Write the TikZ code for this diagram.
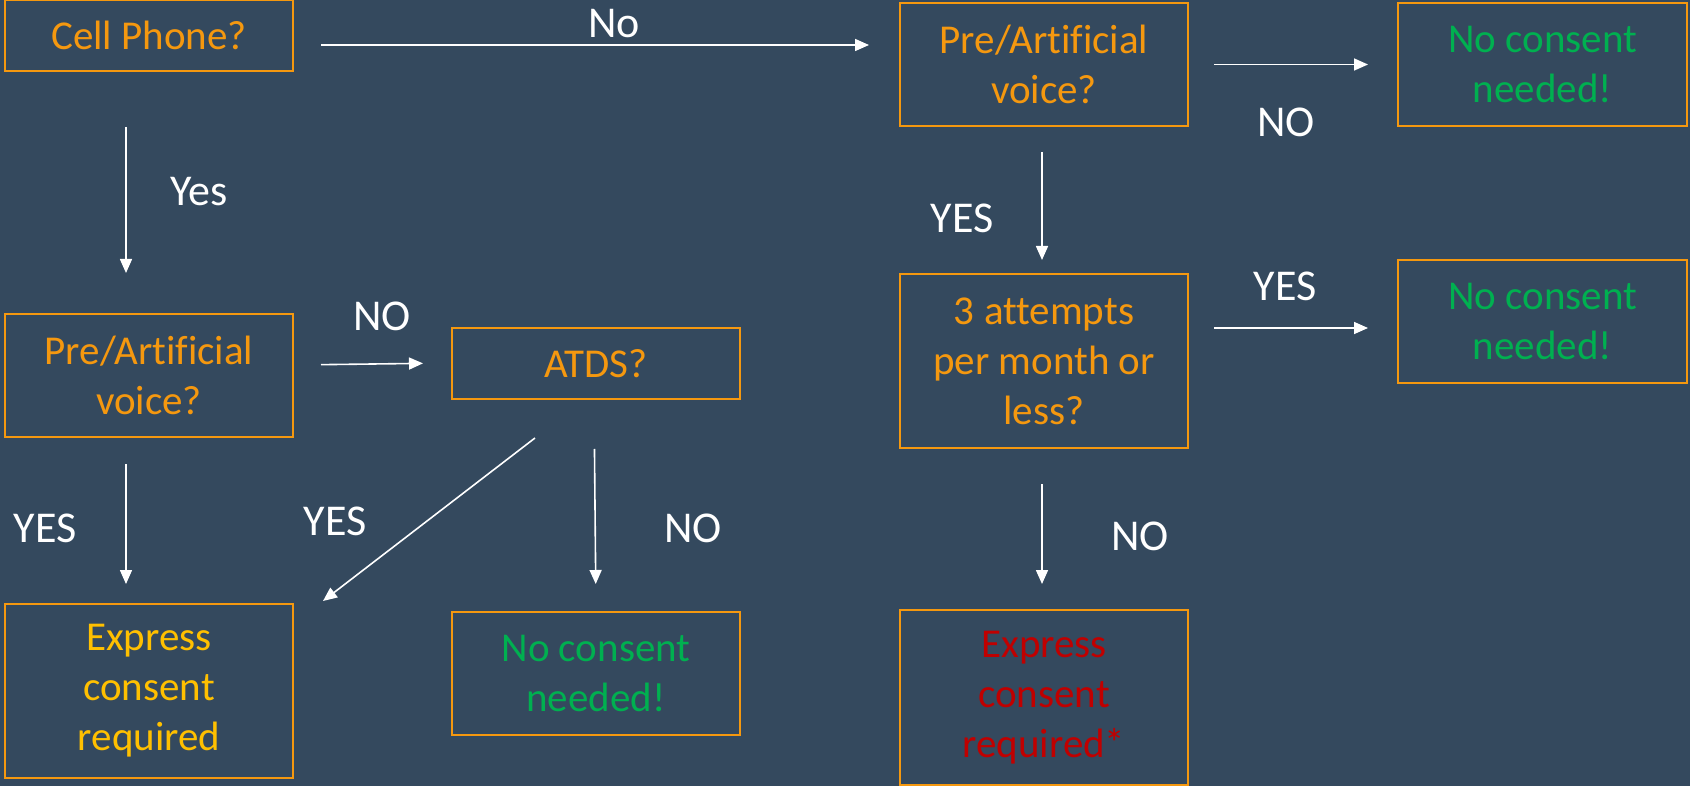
\documentclass[tikz,border=0pt]{standalone}
\usepackage{fontspec}
\setmainfont{Carlito}[Ligatures=NoCommon]
\usetikzlibrary{arrows.meta}
\definecolor{slate}{RGB}{52,73,94}
\definecolor{boxorange}{RGB}{245,152,15}
\definecolor{goldtext}{RGB}{255,192,0}
\definecolor{oktext}{RGB}{0,176,80}
\definecolor{badtext}{RGB}{192,0,0}
\tikzset{
  qbox/.style={draw=boxorange, line width=2pt, align=center, inner sep=0pt,
    minimum width=288pt, text=boxorange, font=\fontsize{41}{50}\selectfont},
  arr/.style={white, line width=1.6pt, -{Triangle[length=14pt,width=12pt]}},
  lbl/.style={text=white, font=\fontsize{44}{50}\selectfont, inner sep=0pt}
}
\begin{document}
\begin{tikzpicture}[x=1pt, y=-1pt]
  \fill[slate] (0,0) rectangle (1690,786);
  \useasboundingbox (0,0) rectangle (1690,786);
  % question boxes
  \node[qbox, minimum height=71pt] (cell) at (149,35.5) {Cell Phone?};
  \node[qbox, minimum height=123pt] (preB) at (1044,64.5) {Pre/Artificial\\voice?};
  \node[qbox, minimum height=123pt] (preA) at (149,375.5) {Pre/Artificial\\voice?};
  \node[qbox, minimum height=71pt] (atds) at (596,363.5) {ATDS?};
  \node[qbox, minimum height=174pt] (tries) at (1044,361) {3 attempts\\per month or\\less?};
  % outcome boxes
  \node[qbox, minimum height=123pt, minimum width=289pt, text=oktext] (noneA) at (1542.5,64.5) {No consent\\needed!};
  \node[qbox, minimum height=123pt, minimum width=289pt, text=oktext] (noneB) at (1542.5,321.5) {No consent\\needed!};
  \node[qbox, minimum height=123pt, text=oktext] (noneC) at (596,673.5) {No consent\\needed!};
  \node[qbox, minimum height=174pt, text=goldtext] (expA) at (149,691) {Express\\consent\\required};
  \node[qbox, minimum height=175pt, text=badtext] (expB) at (1044,697.5) {Express\\consent\\required*};
  % connectors
  \draw[arr, shorten <=27pt, shorten >=30pt] ([yshift=-9.5pt]cell.east) -- ([yshift=19.5pt]preB.west);
  \draw[arr, shorten <=55pt, shorten >=40pt] ([xshift=-23pt]cell.south) -- ([xshift=-23pt]preA.north);
  \draw[arr, shorten <=25pt, shorten >=29pt] (preB.east) -- (noneA.west);
  \draw[arr, shorten <=25pt, shorten >=13pt] ([xshift=-2pt]preB.south) -- ([xshift=-2pt]tries.north);
  \draw[arr, shorten <=25pt, shorten >=29pt] ([yshift=33pt]tries.east) -- ([yshift=-6.5pt]noneB.west);
  \draw[arr, shorten <=35pt, shorten >=25pt] ([xshift=-2pt]tries.south) -- ([xshift=-2pt]expB.north);
  \draw[arr, shorten <=27pt, shorten >=28pt] ([yshift=10.5pt]preA.east) -- ([yshift=0.5pt]atds.west);
  \draw[arr, shorten <=26pt, shorten >=19pt] ([xshift=-23pt]preA.south) -- ([xshift=-23pt]expA.north);
  \draw[arr] ([xshift=-61pt,yshift=-38pt]atds.south) -- ([xshift=29pt,yshift=2pt]expA.north east);
  \draw[arr, shorten <=49pt, shorten >=27pt] ([xshift=-2pt]atds.south) -- (noneC.north);
  % labels
  \node[lbl] (noTop) at (614,24) {No};
  \node[lbl] (yesCell) at (199,192) {Yes};
  \node[lbl] (noVoiceB) at (1286,122) {NO};
  \node[lbl] (yesVoiceB) at (962,218) {YES};
  \node[lbl] (yesTries) at (1285,286) {YES};
  \node[lbl] (noTries) at (1140,536) {NO};
  \node[lbl] (noVoiceA) at (382,316) {NO};
  \node[lbl] (yesVoiceA) at (45,528) {YES};
  \node[lbl] (yesAtds) at (335,521) {YES};
  \node[lbl] (noAtds) at (693,528) {NO};
\end{tikzpicture}
\end{document}
